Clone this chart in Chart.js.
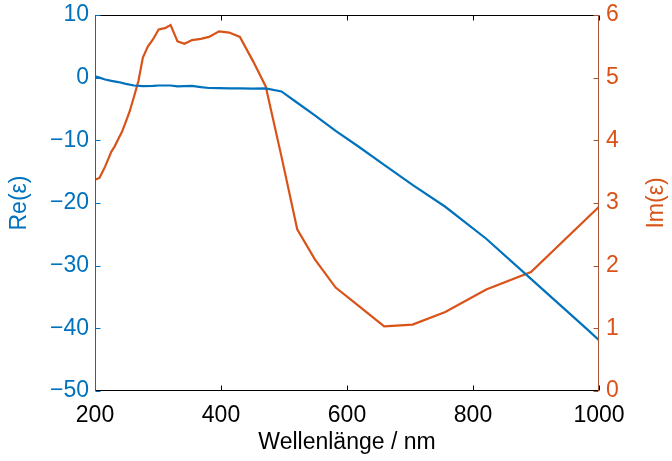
<!DOCTYPE html>
<html>
<head>
<meta charset="utf-8">
<script src="https://cdn.jsdelivr.net/npm/chart.js@4.4.1/dist/chart.umd.min.js"></script>
<style>
  html, body { margin: 0; padding: 0; background: #fff; }
  #wrap { width: 672px; height: 461px; }
</style>
</head>
<body>
<div id="wrap"><canvas id="epsChart" width="672" height="461"></canvas></div>
<script>
const reWave = [200, 207, 216, 226, 237, 249, 262, 276, 292, 301, 320, 331, 342, 354, 368, 381, 397, 413, 430, 451, 471, 496, 521, 549, 582, 617, 659, 704, 756, 821, 892, 984, 1000];
const reValues = [0.2, 0.0, -0.3, -0.5, -0.7, -1.0, -1.25, -1.35, -1.3, -1.25, -1.25, -1.4, -1.35, -1.3, -1.5, -1.65, -1.68, -1.7, -1.7, -1.76, -1.72, -2.2, -4.0, -6.0, -8.5, -10.9, -13.9, -17.1, -20.6, -25.7, -32.1, -40.4, -41.9];

const imWave = [200, 207, 212, 216, 221, 226, 231, 237, 243, 249, 255, 262, 269, 276, 284, 292, 301, 311, 320, 331, 342, 354, 368, 381, 397, 413, 430, 451, 471, 496, 521, 549, 582, 617, 659, 704, 756, 821, 892, 1000];
const imValues = [3.37, 3.40, 3.50, 3.58, 3.70, 3.82, 3.90, 4.02, 4.14, 4.30, 4.46, 4.70, 4.95, 5.32, 5.50, 5.61, 5.77, 5.79, 5.84, 5.58, 5.54, 5.60, 5.62, 5.65, 5.74, 5.72, 5.65, 5.26, 4.86, 3.74, 2.58, 2.10, 1.65, 1.37, 1.03, 1.06, 1.26, 1.62, 1.90, 2.94];

const xTicks = [200, 400, 600, 800, 1000];
const reTicks = [10, 0, -10, -20, -30, -40, -50];
const imTicks = [6, 5, 4, 3, 2, 1, 0];

const blue = '#0072BD';
const orange = '#D95319';
const rightAxisColor = 'rgb(168, 84, 52)';
const fontFam = '"Liberation Sans", Arial, Helvetica, sans-serif';
const fontSize = 23;

// Minuszeichen wie in MATLAB
function fmt(v) { return String(v).replace('-', '\u2212'); }

// y-Achsen: feste Breite, kein Zusatzabstand oben/unten
function fitY(w) {
  return s => { s.width = w; s.paddingTop = 0; s.paddingBottom = 0; };
}

// Rahmen, nach innen zeigende Ticks und y-Achsentitel
const matlabAxes = {
  id: 'matlabAxes',
  afterDatasetsDraw(chart) {
    const ctx = chart.ctx;
    const a = chart.chartArea;
    const sx = chart.scales.x, sl = chart.scales.yRe, sr = chart.scales.yIm;
    const L = Math.round(a.left) + 0.5, R = Math.round(a.right) - 0.5;
    const T = Math.round(a.top) + 0.5, B = Math.round(a.bottom) - 0.5;
    const tl = 5;
    ctx.save();
    ctx.lineWidth = 1;
    // oben / unten schwarz
    ctx.strokeStyle = '#000';
    ctx.beginPath();
    ctx.moveTo(L, T); ctx.lineTo(R, T);
    ctx.moveTo(L, B); ctx.lineTo(R, B);
    xTicks.forEach(v => {
      const p = Math.round(sx.getPixelForValue(v)) + 0.5;
      ctx.moveTo(p, B); ctx.lineTo(p, B - tl);
      ctx.moveTo(p, T); ctx.lineTo(p, T + tl);
    });
    ctx.stroke();
    // links blau
    ctx.strokeStyle = blue;
    ctx.beginPath();
    ctx.moveTo(L, T); ctx.lineTo(L, B);
    reTicks.forEach(v => {
      const p = Math.round(sl.getPixelForValue(v)) + 0.5;
      ctx.moveTo(L, p); ctx.lineTo(L + tl, p);
    });
    ctx.stroke();
    // rechts orange
    ctx.strokeStyle = rightAxisColor;
    ctx.beginPath();
    ctx.moveTo(R, T); ctx.lineTo(R, B);
    imTicks.forEach(v => {
      const p = Math.round(sr.getPixelForValue(v)) + 0.5;
      ctx.moveTo(R, p); ctx.lineTo(R - tl, p);
    });
    ctx.stroke();

    // Achsentitel (beide von unten nach oben)
    ctx.font = fontSize + 'px ' + fontFam;
    ctx.textAlign = 'center';
    ctx.textBaseline = 'middle';
    const cy = (a.top + a.bottom) / 2;
    ctx.fillStyle = blue;
    ctx.save();
    ctx.translate(20, cy);
    ctx.rotate(-Math.PI / 2);
    ctx.fillText('Re(\u03B5)', 0, 0);
    ctx.restore();
    ctx.fillStyle = orange;
    ctx.save();
    ctx.translate(657, cy);
    ctx.rotate(-Math.PI / 2);
    ctx.fillText('Im(\u03B5)', 0, 0);
    ctx.restore();
    ctx.restore();
  }
};

const ctxEps = document.getElementById('epsChart').getContext('2d');
const dataEps = {
  datasets: [
    {
      label: 'Re(ε)',
      data: reWave.map((w, i) => ({ x: w, y: reValues[i] })),
      borderColor: blue,
      backgroundColor: blue,
      borderWidth: 2.2,
      pointRadius: 0,
      tension: 0,
      yAxisID: 'yRe'
    },
    {
      label: 'Im(ε)',
      data: imWave.map((w, i) => ({ x: w, y: imValues[i] })),
      borderColor: orange,
      backgroundColor: orange,
      borderWidth: 2.2,
      pointRadius: 0,
      tension: 0,
      yAxisID: 'yIm'
    }
  ]
};

const configEps = {
  type: 'line',
  data: dataEps,
  options: {
    responsive: false,
    animation: false,
    layout: { padding: { top: 15, left: 0, right: 0, bottom: 0 } },
    plugins: { legend: { display: false }, tooltip: { enabled: false } },
    scales: {
      x: {
        type: 'linear',
        min: 200, max: 1000,
        afterBuildTicks: s => { s.ticks = xTicks.map(v => ({ value: v })); },
        afterFit: s => { s.height = 70; s.paddingLeft = 0; s.paddingRight = 0; },
        grid: { display: false, drawTicks: false },
        border: { display: false },
        ticks: { color: '#000', padding: 11, maxRotation: 0, font: { family: fontFam, size: fontSize }, callback: v => fmt(v) },
        title: { display: true, text: 'Wellenlänge / nm', color: '#000', padding: { top: 0, bottom: 5 }, font: { family: fontFam, size: fontSize } }
      },
      yRe: {
        type: 'linear',
        position: 'left',
        min: -50, max: 10,
        afterBuildTicks: s => { s.ticks = reTicks.map(v => ({ value: v })); },
        afterFit: fitY(95),
        grid: { display: false, drawTicks: false },
        border: { display: false },
        ticks: { color: blue, padding: 6, font: { family: fontFam, size: fontSize }, callback: v => fmt(v) }
      },
      yIm: {
        type: 'linear',
        position: 'right',
        min: 0, max: 6,
        afterBuildTicks: s => { s.ticks = imTicks.map(v => ({ value: v })); },
        afterFit: fitY(73),
        grid: { display: false, drawTicks: false },
        border: { display: false },
        ticks: { color: orange, padding: 7, font: { family: fontFam, size: fontSize }, callback: v => fmt(v) }
      }
    }
  },
  plugins: [matlabAxes]
};
const epsChart = new Chart(ctxEps, configEps);
</script>
</body>
</html>
